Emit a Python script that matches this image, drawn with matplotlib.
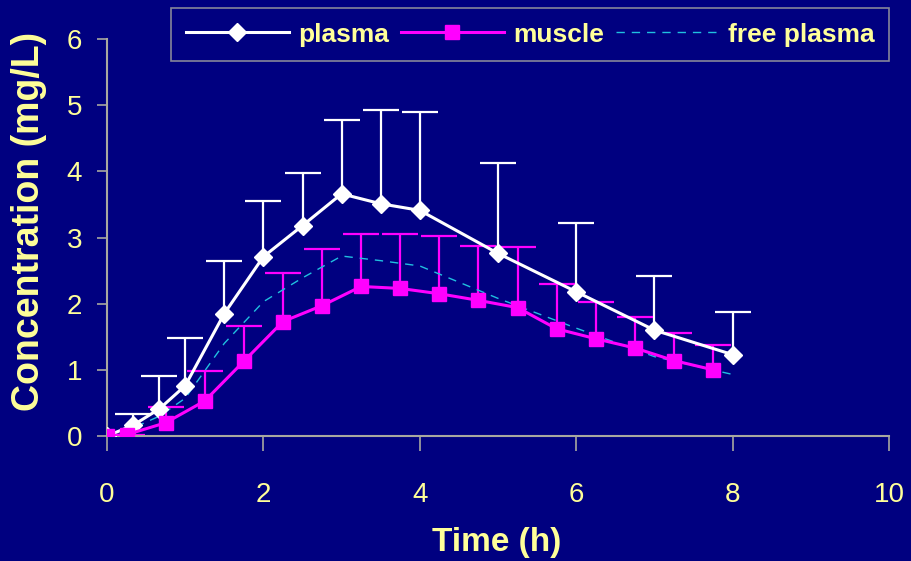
import matplotlib
matplotlib.use("Agg")
import matplotlib.pyplot as plt
import numpy as np

plt.rcParams['font.family'] = ['Liberation Sans', 'DejaVu Sans']

# plasma (mean and upper SD)
t_plasma = [0, 0.33, 0.67, 1, 1.5, 2, 2.5, 3, 3.5, 4, 5, 6, 7, 8]
plasma = [0.0, 0.16, 0.41, 0.76, 1.85, 2.71, 3.18, 3.66, 3.51, 3.41, 2.76, 2.18, 1.60, 1.23]
plasma_sd = [0.0, 0.17, 0.50, 0.72, 0.79, 0.84, 0.79, 1.12, 1.42, 1.48, 1.37, 1.04, 0.82, 0.65]

# muscle (mean and upper SD)
t_muscle = [0, 0.25, 0.75, 1.25, 1.75, 2.25, 2.75, 3.25, 3.75, 4.25, 4.75,
            5.25, 5.75, 6.25, 6.75, 7.25, 7.75]
muscle = [0.0, 0.02, 0.20, 0.53, 1.13, 1.73, 1.97, 2.26, 2.23, 2.15, 2.05,
          1.94, 1.62, 1.47, 1.33, 1.14, 1.00]
muscle_sd = [0.0, 0.0, 0.24, 0.45, 0.54, 0.74, 0.86, 0.79, 0.82, 0.87, 0.82,
             0.92, 0.67, 0.56, 0.47, 0.42, 0.38]

# free plasma
free_plasma = [0.0, 0.12, 0.30, 0.57, 1.40, 2.03, 2.39, 2.72, 2.65, 2.57, 2.08, 1.63, 1.20, 0.93]

bg = '#000080'
txt = '#FFFF99'
axcol = '#A8A8A0'

fig = plt.figure(figsize=(9.11, 5.61), dpi=100)
fig.patch.set_facecolor(bg)
ax = fig.add_axes([107 / 911, 1 - 436 / 561, 782 / 911, 397 / 561])
ax.set_facecolor(bg)


def upper_errors(x, y, sd, color):
    # only the upper half of the error bar is shown
    _, caps, _ = ax.errorbar(x, y, yerr=[np.zeros(len(sd)), sd], fmt='none',
                             ecolor=color, elinewidth=1.6, capsize=13,
                             capthick=1.6, zorder=2)
    caps[0].set_visible(False)
    return caps


upper_errors(t_plasma, plasma, plasma_sd, 'white')
upper_errors(t_muscle, muscle, muscle_sd, '#FF00FF')

ax.plot(t_plasma, plasma, color='white', lw=2.2, marker='D', ms=9,
        mfc='white', mec='white', label='plasma', zorder=4)
ax.plot(t_muscle, muscle, color='#FF00FF', lw=2.2, marker='s', ms=10,
        mfc='#FF00FF', mec='#FF00FF', label='muscle', zorder=4)
ax.plot(t_plasma, free_plasma, color='#20C0E0', lw=1.0, ls=(0, (6, 5)),
        label='free plasma', zorder=3)

ax.set_xlim(0, 10)
ax.set_ylim(0, 6)
ax.set_xticks(range(0, 11, 2))
ax.set_yticks(range(0, 7))
for s in ['top', 'right']:
    ax.spines[s].set_visible(False)
for s in ['left', 'bottom']:
    ax.spines[s].set_color(axcol)
    ax.spines[s].set_linewidth(1.5)
ax.tick_params(axis='x', direction='out', length=11, width=1.2, color=axcol,
               labelcolor=txt, labelsize=20, pad=22)
ax.tick_params(axis='y', direction='out', length=7, width=1.2, color=axcol,
               labelcolor=txt, labelsize=20, pad=11)

fig.text(29 / 911, 1 - 221 / 561, 'Concentration (mg/L)', rotation=90,
         ha='center', va='center', color=txt, fontsize=27, fontweight='bold')
fig.text(497 / 911, 1 - 543 / 561, 'Time (h)', ha='center', va='center',
         color=txt, fontsize=24, fontweight='bold')

leg = fig.legend(loc='upper center', bbox_to_anchor=(530 / 911, 1 - 8 / 561), ncol=3,
                 frameon=True, fancybox=False, facecolor=bg, edgecolor=axcol,
                 handlelength=3.9, handletextpad=0.35, columnspacing=0.45,
                 borderpad=0.55, borderaxespad=0, prop={'size': 19, 'weight': 'bold'})
leg.get_frame().set_linewidth(1.2)
for t in leg.get_texts():
    t.set_color(txt)

fig.savefig('out.png', dpi=100, facecolor=bg)
